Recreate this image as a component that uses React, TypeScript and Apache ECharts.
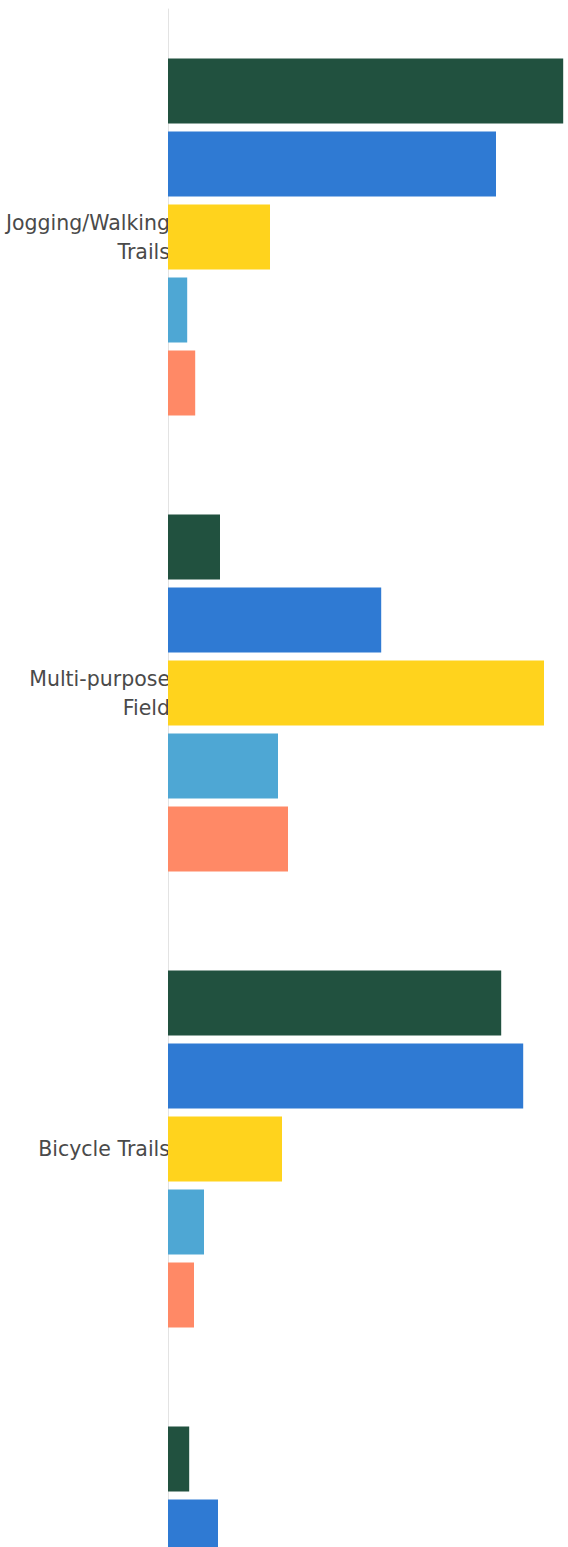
import React, { useEffect, useRef } from "react";
import * as echarts from "echarts";

// The fourth category's label lies below the visible area of the reference, so its name is unknown.
const categories = ["Jogging/Walking\nTrails", "Multi-purpose\nField", "Bicycle Trails", ""];
const seriesNames = ["Series A", "Series B", "Series C", "Series D", "Series E"];
const seriesA = [98.8, 13, 83.3, 5.3];
const seriesB = [82, 53.3, 88.8, 12.5];
const seriesC = [25.5, 94, 28.5, 20];
const seriesD = [4.8, 27.5, 9, 8];
const seriesE = [6.8, 30, 6.5, 6];
const colors = ["#21513f", "#2f7ad3", "#ffd31d", "#4ea7d4", "#ff8966"];

export default function App() {
  const ref = useRef<HTMLDivElement>(null);
  useEffect(() => {
    if (!ref.current) return;
    const chart = echarts.init(ref.current, null, { renderer: "svg" });
    const data = [seriesA, seriesB, seriesC, seriesD, seriesE];
    chart.setOption({
      animation: false,
      grid: { left: 168, top: 9, width: 400, height: 1824, containLabel: false },
      xAxis: {
        type: "value",
        min: 0,
        max: 100,
        show: false,
        splitLine: { show: false },
      },
      yAxis: {
        type: "category",
        inverse: true,
        data: categories,
        axisLine: { show: true, lineStyle: { color: "#e3e3e3", width: 1 } },
        axisTick: { show: false },
        axisLabel: {
          margin: -2,
          fontSize: 20.5,
          lineHeight: 29,
          padding: [6, 0, 0, 0],
          color: "#4a4a4a",
          fontFamily: "DejaVu Sans",
          align: "right",
        },
      },
      series: data.map((d, i) => ({
        type: "bar",
        name: seriesNames[i],
        data: d,
        barWidth: 65,
        barGap: "12.3%",
        itemStyle: { color: colors[i] },
      })),
    });
    return () => chart.dispose();
  }, []);
  return (
    <div style={{ position: "absolute", left: 0, top: 0, width: 568, height: 1547, overflow: "hidden" }}>
      <div ref={ref} style={{ width: 568, height: 1840 }} />
    </div>
  );
}
